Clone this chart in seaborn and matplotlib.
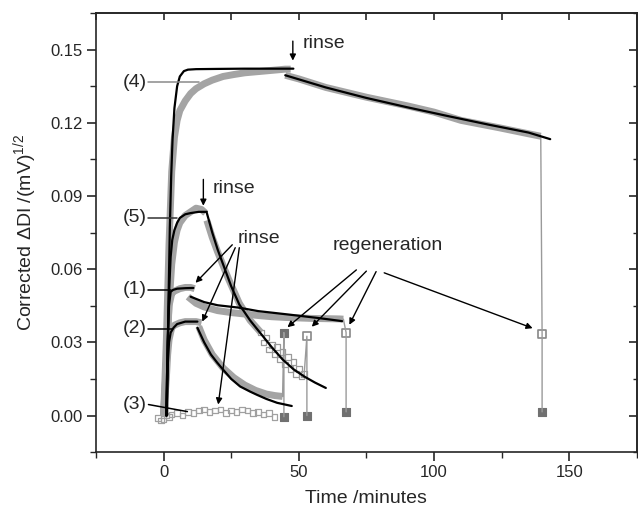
import matplotlib
matplotlib.use('Agg')
import matplotlib.pyplot as plt
import seaborn as sns
from matplotlib.ticker import MultipleLocator, FormatStrFormatter

# ---------------- data ----------------
# (4) measured data: association and dissociation
t4_assoc = [0, 1, 2, 3, 4, 5, 6, 8, 10, 12, 15, 18, 22, 26, 30, 35, 40, 45, 47]
y4_assoc = [0.0, 0.03, 0.07, 0.100, 0.114, 0.121, 0.125, 0.129, 0.132, 0.134, 0.136,
            0.1375, 0.139, 0.1398, 0.1405, 0.141, 0.1415, 0.142, 0.142]
t4_dis = [45, 50, 60, 75, 90, 100, 110, 124, 135, 139.5]
y4_dis = [0.1395, 0.138, 0.1345, 0.1305, 0.127, 0.1244, 0.121, 0.118, 0.1155, 0.1145]
# (4) fits
t4_fit_a = [1.3, 1.8, 2.3, 2.8, 3.3, 4, 5, 6, 7.5, 9, 12, 20, 30, 40, 48]
y4_fit_a = [0.0, 0.046, 0.077, 0.098, 0.113, 0.126, 0.135, 0.139, 0.1412, 0.1418,
            0.142, 0.1421, 0.1422, 0.1422, 0.1422]
t4_fit_d = [45, 60, 75, 90, 105, 120, 135, 143]
y4_fit_d = [0.1395, 0.1345, 0.1302, 0.1264, 0.1228, 0.1193, 0.1160, 0.1133]

# (5) measured data
t5_assoc = [0, 1, 2, 3, 4, 5, 6, 8, 10, 12, 14, 15.5]
y5_assoc = [0.0, 0.02, 0.045, 0.062, 0.071, 0.076, 0.079, 0.082, 0.0835, 0.085, 0.0845, 0.083]
t5_dis = [16, 18, 20, 24, 28, 32, 36]
y5_dis = [0.080, 0.073, 0.067, 0.056, 0.046, 0.039, 0.034]
t5_scat = [36, 37, 38, 39, 40, 41, 42, 43, 44, 45, 46, 47, 48, 49, 50, 51, 52]
y5_scat = [0.034, 0.030, 0.032, 0.027, 0.029, 0.025, 0.028, 0.023, 0.026, 0.021,
           0.024, 0.019, 0.022, 0.017, 0.019, 0.016, 0.017]
# (5) fits
t5_fit_a = [1.0, 1.5, 2, 2.6, 3.2, 4, 5, 6, 8, 10, 13, 16]
y5_fit_a = [0.0, 0.03, 0.05, 0.065, 0.072, 0.076, 0.079, 0.081, 0.0825, 0.083, 0.0835, 0.0835]
t5_fit_d = [16, 18, 20, 22, 25, 28, 32, 36, 40, 44, 48, 52, 56, 60]
y5_fit_d = [0.083, 0.075, 0.068, 0.062, 0.053, 0.0455, 0.039, 0.0335, 0.028, 0.023,
            0.019, 0.016, 0.0135, 0.0113]

# (1) measured data
t1_assoc = [0, 1, 1.5, 2, 3, 4, 6, 8, 10, 11.5]
y1_assoc = [0.0, 0.02, 0.035, 0.045, 0.050, 0.051, 0.052, 0.0525, 0.0525, 0.052]
t1_dis = [9, 12, 15, 20, 25, 30, 35, 40, 45, 50, 55, 60, 65, 66.5]
y1_dis = [0.0487, 0.046, 0.0445, 0.043, 0.0422, 0.0416, 0.041, 0.0405, 0.0402, 0.040,
          0.0398, 0.0397, 0.0396, 0.0395]
# (1) fits
t1_fit_a = [1, 1.5, 2, 2.6, 3.5, 5, 8, 11]
y1_fit_a = [0.0, 0.03, 0.045, 0.0507, 0.0515, 0.052, 0.0522, 0.0523]
t1_fit_d = [10, 15, 20, 28, 35, 47, 57, 66]
y1_fit_d = [0.0487, 0.0465, 0.0452, 0.0442, 0.0428, 0.0413, 0.0400, 0.0387]

# (2) measured data
t2_assoc = [0, 1, 1.5, 2, 3, 4, 6, 8, 10, 12, 14]
y2_assoc = [0.0, 0.015, 0.025, 0.031, 0.036, 0.037, 0.038, 0.0385, 0.0385, 0.0385, 0.038]
t2_dis = [13, 15, 18, 22, 26, 30, 34, 38, 41, 44]
y2_dis = [0.0365, 0.031, 0.025, 0.0195, 0.0155, 0.0125, 0.0103, 0.0088, 0.0082, 0.0078]
# (2) fits
t2_fit_a = [1, 1.5, 2, 2.6, 3.7, 5, 8, 12.5]
y2_fit_a = [0.0, 0.02, 0.03, 0.034, 0.036, 0.0375, 0.0385, 0.0385]
t2_fit_d = [12.5, 15, 17.5, 19.8, 22, 25, 28.3, 32, 34.5, 38, 42, 47.4]
y2_fit_d = [0.036, 0.030, 0.025, 0.0217, 0.0188, 0.015, 0.0119, 0.0098, 0.0085,
            0.0068, 0.0052, 0.0039]

# (3) measured data (no binding)
t3 = [-2, -1, 0, 1, 2, 3, 5, 7, 9, 11, 13, 15, 17, 19, 21, 23, 25, 27, 29, 31, 33, 35, 37, 39, 41]
y3 = [-0.001, -0.002, -0.0015, 0.0, -0.0005, 0.0005, 0.001, 0.0, 0.0015, 0.001, 0.002,
      0.0025, 0.0015, 0.002, 0.0025, 0.001, 0.002, 0.0015, 0.0025, 0.002, 0.001, 0.0015,
      0.0005, 0.001, -0.0005]

# regeneration steps: (2), (5), (1), (4)
regen_t = [44.5, 53, 67.5, 140]
regen_from = [0.0078, 0.017, 0.0395, 0.1145]
regen_top = [0.034, 0.0325, 0.034, 0.0335]
regen_bottom = [-0.0005, 0.0, 0.0015, 0.0015]
regen_start_t = [44, 52, 66.5, 139.5]

# curve labels
curve_labels = ['(4)', '(5)', '(1)', '(2)', '(3)']
label_y = [0.1367, 0.081, 0.0516, 0.0356, 0.0045]

# ---------------- style ----------------
sns.set_style('ticks')
plt.rcParams['font.family'] = ['Liberation Sans', 'DejaVu Sans']
plt.rcParams['mathtext.fontset'] = 'custom'
plt.rcParams['mathtext.rm'] = 'Liberation Sans'
plt.rcParams['mathtext.it'] = 'Liberation Sans:italic'
plt.rcParams['axes.linewidth'] = 1.2

GREY = '#a4a4a4'
DARK = '#707070'

fig = plt.figure(figsize=(6.38, 5.12), dpi=100)
ax = fig.add_axes([0.1505, 0.117, 0.8475, 0.8575])

# grey measured bands
for tt, yy in [(t4_assoc, y4_assoc), (t4_dis, y4_dis), (t5_assoc, y5_assoc), (t5_dis, y5_dis),
               (t1_assoc, y1_assoc), (t1_dis, y1_dis), (t2_assoc, y2_assoc), (t2_dis, y2_dis)]:
    sns.lineplot(x=tt, y=yy, ax=ax, color=GREY, lw=5, sort=False, estimator=None,
                 solid_capstyle='butt')

# regeneration steps (thin grey)
for i in range(len(regen_t)):
    sns.lineplot(x=[regen_start_t[i], regen_t[i], regen_t[i]],
                 y=[regen_from[i], regen_top[i], regen_bottom[i]],
                 ax=ax, color='#9a9a9a', lw=1.0, sort=False, estimator=None)

# scattered open squares
sns.scatterplot(x=t5_scat, y=y5_scat, ax=ax, marker='s', s=16, facecolors='none',
                edgecolors='#9a9a9a', linewidth=0.9)
sns.scatterplot(x=t3, y=y3, ax=ax, marker='s', s=16, facecolors='none',
                edgecolors='#a0a0a0', linewidth=0.9)

# regeneration markers
sns.scatterplot(x=regen_t[:1], y=regen_top[:1], ax=ax, marker='s', s=34, color=DARK,
                edgecolor=DARK, linewidth=0.8)
sns.scatterplot(x=regen_t[1:], y=regen_top[1:], ax=ax, marker='s', s=30, facecolors='white',
                edgecolors='#888888', linewidth=1.2)
sns.scatterplot(x=regen_t, y=regen_bottom, ax=ax, marker='s', s=34, color=DARK,
                edgecolor=DARK, linewidth=0.8)

# black fits
for tt, yy in [(t4_fit_a, y4_fit_a), (t4_fit_d, y4_fit_d), (t5_fit_a, y5_fit_a), (t5_fit_d, y5_fit_d),
               (t1_fit_a, y1_fit_a), (t1_fit_d, y1_fit_d), (t2_fit_a, y2_fit_a), (t2_fit_d, y2_fit_d)]:
    sns.lineplot(x=tt, y=yy, ax=ax, color='black', lw=1.6, sort=False, estimator=None)

# ---------------- curve labels & leaders ----------------
leader_end = [(13.0, 0.1367), (5.0, 0.081), (2.6, 0.0516), (3.0, 0.0356), (8.8, 0.0016)]
leader_col = ['#8a8a8a', '#333333', 'black', 'black', 'black']
for lab, ly, (ex, ey), lc in zip(curve_labels, label_y, leader_end, leader_col):
    ax.text(-10.5, ly, lab, fontsize=14, ha='center', va='center')
    ax.plot([-5.6, ex], [ly, ey], color=lc, lw=1.1)

# ---------------- annotations ----------------
arrow_kw = dict(arrowstyle='-|>', color='black', lw=1.0, mutation_scale=9,
                shrinkA=0, shrinkB=0)
# top rinse
ax.annotate('', xy=(47.8, 0.1455), xytext=(47.8, 0.1535), arrowprops=arrow_kw)
ax.text(51.3, 0.1525, 'rinse', fontsize=14, ha='left', va='center')
# middle rinse
ax.annotate('', xy=(14.7, 0.0860), xytext=(14.7, 0.0968), arrowprops=arrow_kw)
ax.text(18.2, 0.0930, 'rinse', fontsize=14, ha='left', va='center')
# lower rinse
ax.text(27.5, 0.0725, 'rinse', fontsize=14, ha='left', va='center')
for (sx, sy), (tx, ty) in [((25.4, 0.0700), (11.8, 0.0544)),
                           ((26.5, 0.0688), (14.3, 0.0385)),
                           ((28.0, 0.0688), (20.2, 0.0045))]:
    ax.annotate('', xy=(tx, ty), xytext=(sx, sy), arrowprops=arrow_kw)
# regeneration
ax.text(83, 0.0695, 'regeneration', fontsize=14, ha='center', va='center')
for (sx, sy), (tx, ty) in [((71.3, 0.0597), (45.8, 0.0362)),
                           ((75.0, 0.0592), (54.8, 0.0364)),
                           ((78.6, 0.0590), (68.7, 0.0372)),
                           ((81.6, 0.0585), (136.5, 0.0358))]:
    ax.annotate('', xy=(tx, ty), xytext=(sx, sy), arrowprops=arrow_kw)

# ---------------- axes ----------------
ax.set_xlim(-25, 175)
ax.set_ylim(-0.015, 0.165)
ax.xaxis.set_major_locator(MultipleLocator(50))
ax.xaxis.set_minor_locator(MultipleLocator(25))
ax.yaxis.set_major_locator(MultipleLocator(0.03))
ax.yaxis.set_minor_locator(MultipleLocator(0.015))
ax.yaxis.set_major_formatter(FormatStrFormatter('%.2f'))
ax.tick_params(which='major', direction='out', length=6.5, width=1.2, labelsize=12, pad=3,
               top=False, right=False)
ax.tick_params(which='minor', direction='out', length=4, width=1.0, top=False, right=False)

sec_x = ax.secondary_xaxis('top')
sec_x.xaxis.set_major_locator(MultipleLocator(50))
sec_x.xaxis.set_minor_locator(MultipleLocator(25))
sec_x.tick_params(which='both', direction='in', length=5, width=1.2, labeltop=False)
sec_y = ax.secondary_yaxis('right')
sec_y.yaxis.set_major_locator(MultipleLocator(0.03))
sec_y.yaxis.set_minor_locator(MultipleLocator(0.015))
sec_y.tick_params(which='major', direction='in', length=6, width=1.2, labelright=False)
sec_y.tick_params(which='minor', direction='in', length=3, width=1.0, labelright=False)

ax.set_xlabel('Time /minutes', fontsize=14, labelpad=7)
ax.set_ylabel(r'Corrected ΔDI /(mV)$^{\mathregular{1/2}}$', fontsize=14, labelpad=8)

fig.savefig('out.png', dpi=100)
